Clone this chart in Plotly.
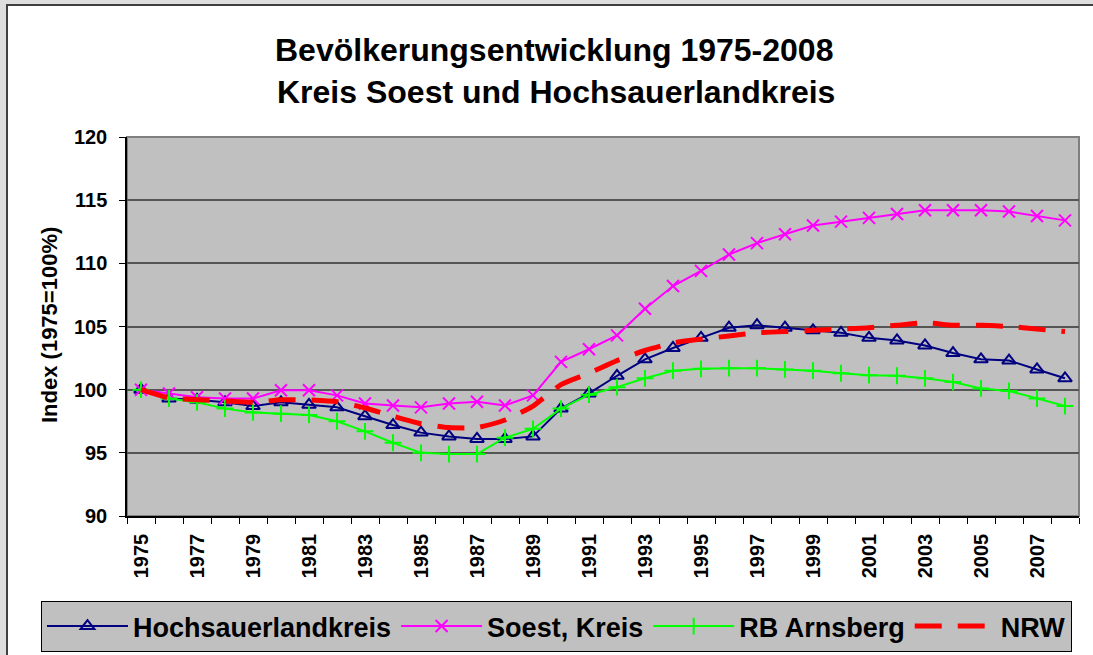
import plotly.graph_objects as go

years = list(range(1975, 2009))
hochsauerland = [100, 99.3, 99.2, 99.0, 98.7, 99.0, 98.8, 98.6, 97.9, 97.2, 96.6, 96.3, 96.1, 96.1, 96.3,
                 98.5, 99.7, 101.1, 102.4, 103.3, 104.1, 104.9, 105.1, 104.9, 104.7, 104.5, 104.1, 103.9,
                 103.5, 102.9, 102.4, 102.3, 101.6, 100.9]
soest = [100, 99.7, 99.4, 99.3, 99.3, 99.95, 99.95, 99.55, 98.9, 98.75, 98.6, 98.9, 99.05, 98.75, 99.55,
         102.2, 103.2, 104.3, 106.4, 108.2, 109.4, 110.7, 111.6, 112.3, 113.0, 113.3, 113.6, 113.9,
         114.2, 114.2, 114.2, 114.1, 113.75, 113.4]
rb_arnsberg = [100, 99.3, 99.0, 98.5, 98.2, 98.1, 98.0, 97.5, 96.7, 95.8, 95.0, 94.9, 94.9, 96.2, 96.9,
               98.5, 99.6, 100.2, 100.9, 101.5, 101.65, 101.7, 101.7, 101.6, 101.5, 101.3, 101.15, 101.1,
               100.9, 100.6, 100.1, 99.9, 99.3, 98.7]
nrw = [100, 99.35, 99.2, 99.1, 99.0, 99.2, 99.2, 99.05, 98.55, 97.9, 97.3, 97.0, 97.0, 97.6, 98.7,
       100.4, 101.3, 102.3, 103.1, 103.7, 104.0, 104.25, 104.5, 104.6, 104.7, 104.8, 104.9, 105.1,
       105.3, 105.1, 105.1, 105.0, 104.8, 104.6]
tick_years = list(range(1975, 2009, 2))
boundaries = [y - 0.5 for y in range(1975, 2010)]

W, H = 1093, 655
L, R, T, B = 127, 1079, 137, 516
FONT = "Liberation Sans, Arial, sans-serif"


def px(x):
    return (x - L) / (R - L)


def py(y):
    return (B - y) / (B - T)


fig = go.Figure()
fig.add_trace(go.Scatter(x=years, y=hochsauerland, name="Hochsauerlandkreis", mode="lines+markers",
                         line=dict(color="#000080", width=2),
                         marker=dict(symbol="triangle-up-open", size=12, color="#000080",
                                     line=dict(width=2, color="#000080"))))
fig.add_trace(go.Scatter(x=years, y=soest, name="Soest, Kreis", mode="lines+markers",
                         line=dict(color="#FF00FF", width=2),
                         marker=dict(symbol="x-thin-open", size=12, color="#FF00FF",
                                     line=dict(width=2, color="#FF00FF"))))
fig.add_trace(go.Scatter(x=years, y=rb_arnsberg, name="RB Arnsberg", mode="lines+markers",
                         line=dict(color="#00FF00", width=2),
                         marker=dict(symbol="cross-thin-open", size=12, color="#00FF00",
                                     line=dict(width=2, color="#00FF00"))))
fig.add_trace(go.Scatter(x=years, y=nrw, name="NRW", mode="lines",
                         line=dict(color="#FF0000", width=5, dash="27px,16px", shape="spline",
                                   smoothing=0.5)))

shapes = [
    # white chart area with dark border
    dict(type="rect", xref="paper", yref="paper", x0=px(7), x1=px(1200), y0=py(5), y1=py(800),
         fillcolor="white", line=dict(color="#404040", width=2), layer="below"),
    # plot area
    dict(type="rect", xref="paper", yref="paper", x0=0, x1=1, y0=0, y1=1,
         fillcolor="#C0C0C0", line=dict(color="#808080", width=2), layer="below"),
]

annotations = [
    dict(text="<b>Bevölkerungsentwicklung 1975-2008</b>", xref="paper", yref="paper",
         x=px(554), y=py(50), xanchor="center", yanchor="middle", showarrow=False,
         font=dict(family=FONT, size=32, color="black")),
    dict(text="<b>Kreis Soest und Hochsauerlandkreis</b>", xref="paper", yref="paper",
         x=px(556), y=py(92), xanchor="center", yanchor="middle", showarrow=False,
         font=dict(family=FONT, size=32, color="black")),
    dict(text="<b>Index (1975=100%)</b>", xref="paper", yref="paper", textangle=-90,
         x=px(49), y=py(325), xanchor="center", yanchor="middle", showarrow=False,
         font=dict(family=FONT, size=22, color="black")),
]

fig.update_layout(
    width=W, height=H,
    margin=dict(l=L, r=W - R, t=T, b=H - B, pad=0, autoexpand=False),
    paper_bgcolor="#DEDEDE",
    plot_bgcolor="rgba(0,0,0,0)",
    shapes=shapes,
    annotations=annotations,
    showlegend=True,
    legend=dict(orientation="h", x=px(41), xanchor="left", y=py(601), yanchor="top",
                bgcolor="#C0C0C0", bordercolor="black", borderwidth=1,
                font=dict(family=FONT, size=27, color="black", weight="bold"),
                itemwidth=81, tracegroupgap=0, valign="middle"),
)

fig.update_xaxes(
    range=[1974.5, 2008.5], tickmode="array", tickvals=tick_years,
    ticktext=[str(y) for y in tick_years], tickangle=-90,
    ticks="", showgrid=False, zeroline=False, automargin=False,
    showline=True, linecolor="black", linewidth=1.5,
    tickfont=dict(family=FONT, size=20, color="black", weight="bold"),
    ticklabelstandoff=8,
    minor=dict(tickmode="array", tickvals=boundaries, ticks="outside", ticklen=6,
               tickcolor="black", tickwidth=1, showgrid=False),
)
fig.update_yaxes(
    range=[90, 120], dtick=5, ticks="outside", ticklen=6, tickcolor="black", tickwidth=1,
    showgrid=True, gridcolor="#555555", gridwidth=1.5, zeroline=False, automargin=False,
    showline=True, linecolor="black", linewidth=1.5, ticklabelstandoff=8,
    tickfont=dict(family=FONT, size=20, color="black", weight="bold"),
)

fig.write_html("out.html", config={"displayModeBar": False},
               post_script="document.body.style.margin='0';document.body.style.padding='0';")
